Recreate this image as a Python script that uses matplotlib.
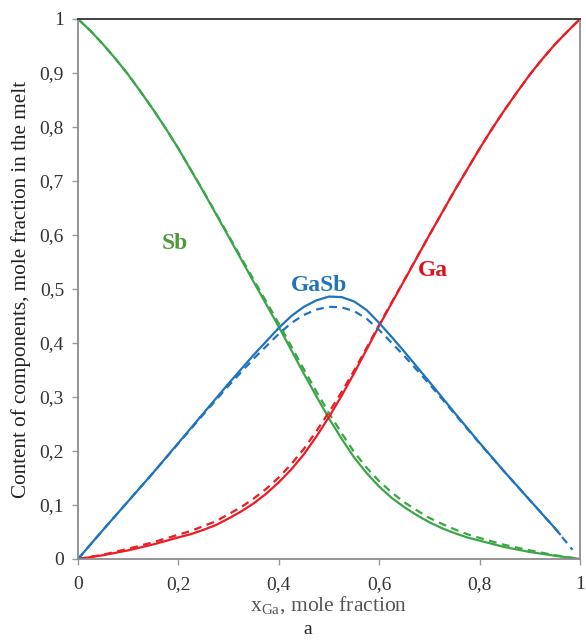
import numpy as np
import matplotlib
matplotlib.use('Agg')
import matplotlib.pyplot as plt

plt.rcParams['font.family'] = ['Liberation Serif', 'DejaVu Serif']
plt.rcParams['mathtext.fontset'] = 'stix'

# ---------------- data ----------------
# Sb
x_sb = [0.0, 0.025, 0.05, 0.075, 0.1, 0.125, 0.15, 0.175, 0.2, 0.25, 0.3, 0.35, 0.4, 0.45,
        0.475, 0.5, 0.525, 0.55, 0.575, 0.6, 0.625, 0.65, 0.675, 0.7, 0.725, 0.75, 0.775,
        0.8, 0.85, 0.9, 0.95, 1.0]
sb_solid = [1.0, 0.978, 0.953, 0.926, 0.897, 0.865, 0.832, 0.797, 0.76, 0.68, 0.597, 0.513,
            0.43, 0.343, 0.301, 0.26, 0.223, 0.188, 0.159, 0.134, 0.113, 0.096, 0.081,
            0.068, 0.057, 0.048, 0.04, 0.034, 0.022, 0.013, 0.006, 0.0]
sb_dash = [1.0, 0.978, 0.953, 0.926, 0.897, 0.865, 0.832, 0.797, 0.76, 0.681, 0.599, 0.517,
           0.436, 0.351, 0.31, 0.27, 0.233, 0.198, 0.169, 0.144, 0.123, 0.105, 0.09, 0.076,
           0.065, 0.055, 0.046, 0.039, 0.026, 0.016, 0.007, 0.0]

# Ga
x_ga = [0.0, 0.05, 0.1, 0.15, 0.2, 0.225, 0.25, 0.275, 0.3, 0.325, 0.35, 0.375, 0.4, 0.425,
        0.45, 0.475, 0.5, 0.525, 0.55, 0.575, 0.6, 0.65, 0.7, 0.75, 0.8, 0.825, 0.85, 0.875,
        0.9, 0.925, 0.95, 0.975, 1.0]
ga_solid = [0.0, 0.007, 0.016, 0.027, 0.04, 0.046, 0.054, 0.063, 0.075, 0.088, 0.103, 0.121,
            0.142, 0.166, 0.194, 0.227, 0.263, 0.302, 0.344, 0.388, 0.432, 0.516, 0.6,
            0.682, 0.76, 0.797, 0.832, 0.865, 0.897, 0.926, 0.953, 0.977, 1.0]
ga_dash = [0.0, 0.008, 0.019, 0.031, 0.045, 0.052, 0.061, 0.07, 0.083, 0.096, 0.112, 0.13,
           0.151, 0.176, 0.204, 0.237, 0.272, 0.309, 0.349, 0.391, 0.434, 0.517, 0.6,
           0.682, 0.76, 0.797, 0.832, 0.865, 0.897, 0.926, 0.953, 0.977, 1.0]

# GaSb
x_gasb = [0.0, 0.05, 0.1, 0.15, 0.2, 0.25, 0.3, 0.35, 0.4, 0.425, 0.45, 0.475, 0.5, 0.525,
          0.55, 0.575, 0.6, 0.625, 0.65, 0.675, 0.7, 0.75, 0.8, 0.85, 0.9, 0.95, 0.96]
gasb_solid = [0.0, 0.054, 0.107, 0.16, 0.215, 0.27, 0.325, 0.378, 0.428, 0.45, 0.467, 0.479,
              0.486, 0.485, 0.477, 0.461, 0.437, 0.411, 0.384, 0.356, 0.328, 0.271, 0.215,
              0.161, 0.109, 0.057, 0.046]
x_gasb_d = [0.0, 0.05, 0.1, 0.15, 0.2, 0.25, 0.3, 0.35, 0.4, 0.425, 0.45, 0.475, 0.5, 0.525,
            0.55, 0.575, 0.6, 0.625, 0.65, 0.675, 0.7, 0.75, 0.8, 0.85, 0.9, 0.95, 0.985]
gasb_dash = [0.0, 0.054, 0.107, 0.16, 0.214, 0.268, 0.321, 0.371, 0.417, 0.437, 0.452, 0.462,
             0.467, 0.466, 0.459, 0.445, 0.424, 0.4, 0.376, 0.35, 0.324, 0.269, 0.214,
             0.161, 0.109, 0.057, 0.017]

xticks = [0, 0.2, 0.4, 0.6, 0.8, 1.0]
xtick_labels = ['0', '0,2', '0,4', '0,6', '0,8', '1']
yticks = [0, 0.1, 0.2, 0.3, 0.4, 0.5, 0.6, 0.7, 0.8, 0.9, 1.0]
ytick_labels = ['0', '0,1', '0,2', '0,3', '0,4', '0,5', '0,6', '0,7', '0,8', '0,9', '1']

GREEN = '#3aa648'
RED = '#ec1c24'
BLUE = '#1f74bd'
DASH = (0, (3.5, 2.5))

fig = plt.figure(figsize=(5.86, 6.44), dpi=100)
ax = fig.add_axes([0.1331, 0.132, 0.8567, 0.8385])

lw = 1.6
ax.plot(x_sb, sb_solid, color=GREEN, lw=lw)
ax.plot(x_sb, sb_dash, color=GREEN, lw=lw, ls=DASH)
ax.plot(x_ga, ga_solid, color=RED, lw=lw)
ax.plot(x_ga, ga_dash, color=RED, lw=lw, ls=DASH)
ax.plot(x_gasb, gasb_solid, color=BLUE, lw=lw)
ax.plot(x_gasb_d, gasb_dash, color=BLUE, lw=lw, ls=DASH)

ax.text(0.193, 0.585, 'Sb', color='#4c9a3c', fontsize=17, fontweight='bold',
        ha='center', va='center')
ax.text(0.48, 0.507, 'GaSb', color=BLUE, fontsize=17, fontweight='bold',
        ha='center', va='center')
ax.text(0.707, 0.535, 'Ga', color='#d9141b', fontsize=17, fontweight='bold',
        ha='center', va='center')

ax.set_xlim(0, 1)
ax.set_ylim(0, 1)
ax.set_xticks(xticks)
ax.set_xticklabels(xtick_labels)
ax.set_yticks(yticks)
ax.set_yticklabels(ytick_labels)
ax.tick_params(axis='both', direction='out', length=4, width=1, color='#999999',
               labelsize=14, labelcolor='#333333')
ax.tick_params(axis='x', pad=8)
ax.tick_params(axis='y', pad=6)

for side in ['left', 'bottom', 'right']:
    ax.spines[side].set_color('#8c8c8c')
    ax.spines[side].set_linewidth(1.3)
ax.spines['top'].set_color('#333333')
ax.spines['top'].set_linewidth(1.3)

ax.set_ylabel('Content of components, mole fraction in the melt', fontsize=15.2,
              color='#222222', labelpad=6)
ax.set_xlabel(r'x$_{\mathregular{Ga}}$, mole fraction', fontsize=15.5,
              color='#555555', labelpad=1)

fig.text(308 / 586, 1 - 630 / 644, 'a', fontsize=14, ha='center', va='center',
         color='#222222')

fig.savefig('out.png', dpi=100)
